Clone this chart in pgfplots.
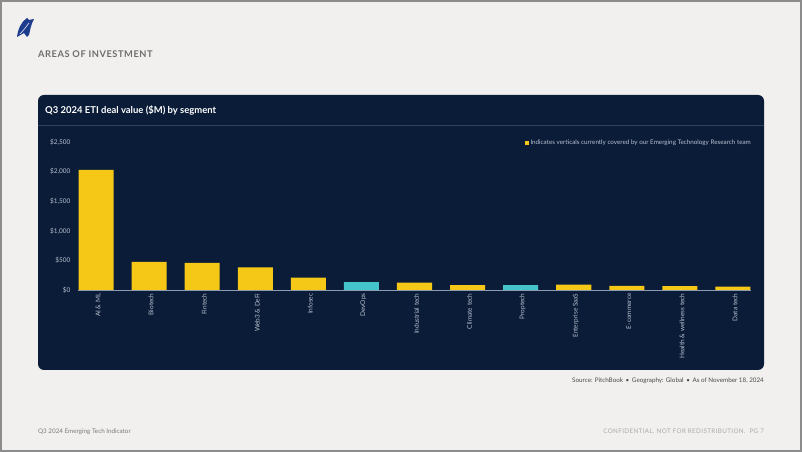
\documentclass[border=0pt]{standalone}
\usepackage{pgfplots}
\pgfplotsset{compat=1.18}
\usepackage{fontspec}
\setmainfont{Lato}
\definecolor{bgpage}{HTML}{F1F0EE}
\definecolor{framegray}{HTML}{8C8C8C}
\definecolor{hdrgray}{HTML}{6E6E6E}
\definecolor{navy}{HTML}{0A1C38}
\definecolor{sepline}{HTML}{2C4263}
\definecolor{barY}{HTML}{F5C817}
\definecolor{barT}{HTML}{45C3CB}
\definecolor{axisgray}{HTML}{8E9AB0}
\definecolor{lblgray}{HTML}{B9C2CF}
\definecolor{srcgray}{HTML}{4A4A4A}
\definecolor{footgray}{HTML}{7A7A7A}
\definecolor{confgray}{HTML}{A8A8A8}
\definecolor{logoblue}{HTML}{1D3C8E}
\begin{document}
\begin{tikzpicture}[x=1bp,y=1bp]
\useasboundingbox (0,0) rectangle (802,452);
\fill[bgpage] (0,0) rectangle (802,452);
\draw[framegray, line width=2bp] (1,1) rectangle (801,451);
% logo
\fill[logoblue] (17,415) .. controls (18,423) and (21,430) .. (27,434) -- (29,432) -- (34,433)
  .. controls (31,428) and (30,421) .. (29,417) .. controls (28,416) and (27,415) .. (27,415) -- (24,419) -- cycle;
\draw[white!80!logoblue, line width=0.7bp] (20,418) .. controls (23,421) and (26,425) .. (29,429);
\node[anchor=base west, inner sep=0, text=hdrgray, font=\bfseries\fontsize{9.3}{10}\selectfont\addfontfeatures{LetterSpace=6}] at (38,394) {AREAS OF INVESTMENT};
% panel
\fill[navy, rounded corners=6bp] (38,82) rectangle (764,357);
\draw[sepline, line width=0.7bp] (38,327) -- (764,327);
\node[anchor=base west, inner sep=0, text=white, font=\bfseries\fontsize{9.5}{11}\selectfont] at (45,338) {Q3 2024 ETI deal value (\$M) by segment};
\begin{axis}[
  at={(78bp,162bp)}, anchor=south west,
  scale only axis, width=673bp, height=148bp,
  xmin=-0.34, xmax=12.34, ymin=0, ymax=2500,
  axis x line=bottom, axis y line=left,
  y axis line style={draw=none},
  x axis line style={draw=axisgray, line width=0.8bp, -},
  major tick length=0pt,
  ytick={0,500,1000,1500,2000,2500},
  yticklabel={\$\pgfmathprintnumber[assume math mode=true]{\tick}},
  /pgf/number format/1000 sep={,},
  yticklabel style={font=\fontsize{6.5}{7}\selectfont, text=lblgray, xshift=-4bp},
  xtick={0,...,12},
  xticklabels={AI \& ML, Biotech, Fintech, Web3 \& DeFi, Infosec, DevOps, Industrial tech, Climate tech, Proptech, Enterprise SaaS, E-commerce, Health \& wellness tech, Data tech},
  xticklabel style={rotate=90, anchor=east, font=\fontsize{6.5}{7}\selectfont, text=lblgray, yshift=-2bp},
  ybar, bar width=0.66,
  clip=false,
]
\addplot[fill=barY, draw=none, bar shift=0pt] coordinates {(0,2030) (1,473) (2,456) (3,383) (4,208) (6,123) (7,84) (9,90) (10,68) (11,66) (12,56)};
\addplot[fill=barT, draw=none, bar shift=0pt] coordinates {(5,135) (8,84)};
\end{axis}
\node[anchor=base east, inner sep=0, text=lblgray, font=\fontsize{6.3}{7}\selectfont] at (751,307) {\textcolor{barY}{\rule{3.5bp}{3.5bp}}\hspace{2bp}Indicates verticals currently covered by our Emerging Technology Research team};
\node[anchor=base east, inner sep=0, text=srcgray, font=\fontsize{6.3}{7}\selectfont] at (764,69) {Source: PitchBook \,•\, Geography: Global \,•\, As of November 18, 2024};
\node[anchor=base west, inner sep=0, text=footgray, font=\fontsize{6.3}{7}\selectfont] at (38,18) {Q3 2024 Emerging Tech Indicator};
\node[anchor=base east, inner sep=0, text=confgray, font=\fontsize{6.3}{7}\selectfont\addfontfeatures{LetterSpace=6}] at (764,18) {CONFIDENTIAL. NOT FOR REDISTRIBUTION. \ PG 7};
\end{tikzpicture}
\end{document}
